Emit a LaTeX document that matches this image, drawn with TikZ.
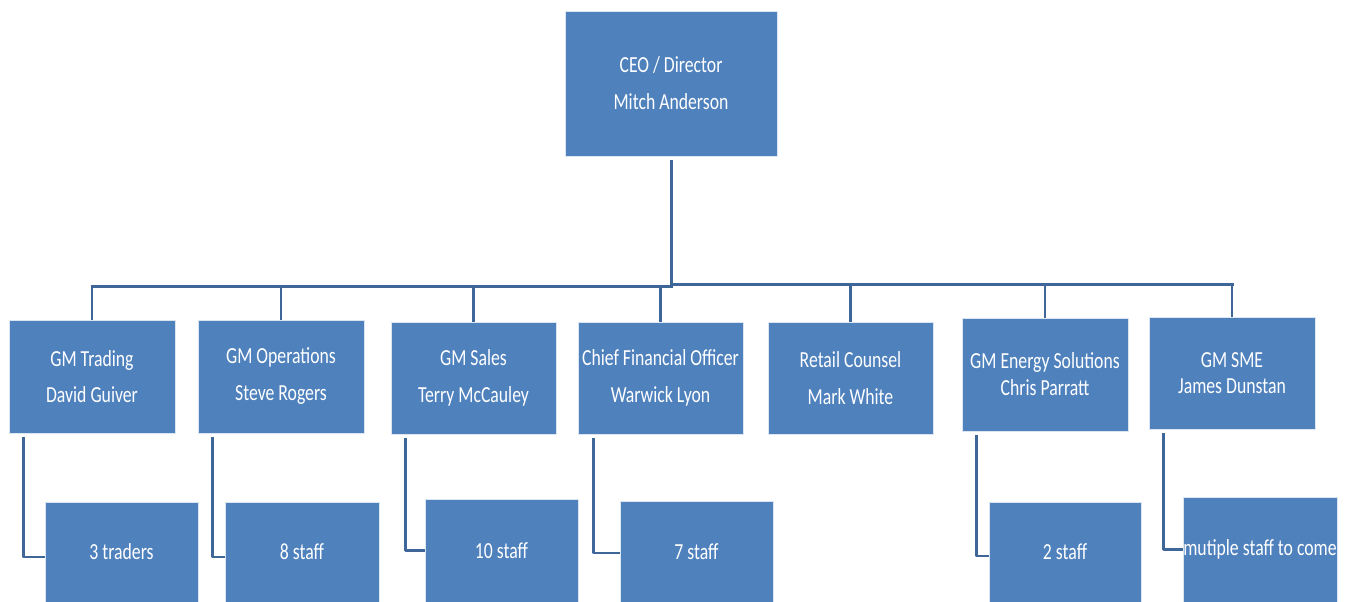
\documentclass[tikz,border=0pt]{standalone}
\usepackage{fontspec}
\setmainfont{Carlito}[FakeStretch=0.77]
\definecolor{boxblue}{HTML}{4F81BD}
\definecolor{lineblue}{HTML}{3F6699}
\begin{document}
\begin{tikzpicture}[x=1pt,y=-1pt,
  box/.style={rectangle, fill=boxblue, draw=white!80!boxblue, line width=0.8pt,
    text=white, align=center, inner sep=0pt, font=\fontsize{23}{23}\selectfont},
  conn/.style={draw=lineblue, line width=3pt},
  elbow/.style={draw=lineblue, line width=2.6pt, line join=round}]
\useasboundingbox (0,0) rectangle (1349,602);
% top
\node[box, minimum width=212, minimum height=145] (ceo) at (671,83.5) {CEO / Director\\[14pt]Mitch Anderson};
% second row
\node[box, minimum width=166, minimum height=113] (t1) at (92,376.5) {GM Trading\\[13pt]David Guiver};
\node[box, minimum width=166, minimum height=113] (t2) at (281,376.5) {GM Operations\\[14pt]Steve Rogers};
\node[box, minimum width=165, minimum height=112] (t3) at (473.5,378) {GM Sales\\[14pt]Terry McCauley};
\node[box, minimum width=165, minimum height=112] (t4) at (660.5,378) {Chief Financial Officer\\[14pt]Warwick Lyon};
\node[box, minimum width=165, minimum height=112] (t5) at (850.5,378) {Retail Counsel\\[14pt]Mark White};
\node[box, minimum width=166, minimum height=113] (t6) at (1045,374.5) {GM Energy Solutions\\[4pt]Chris Parratt};
\node[box, minimum width=166, minimum height=112] (t7) at (1232,373) {GM SME\\[3pt]James Dunstan};
% third row
\node[box, minimum width=153, minimum height=100] (b1) at (121.5,552) {3 traders};
\node[box, minimum width=154, minimum height=100] (b2) at (302,552) {8 staff};
\node[box, minimum width=153, minimum height=103] (b3) at (501.5,550.5) {10 staff};
\node[box, minimum width=153, minimum height=101] (b4) at (696.5,551.5) {7 staff};
\node[box, minimum width=152, minimum height=100] (b6) at (1065,552) {2 staff};
\node[box, minimum width=154, minimum height=105] (b7) at (1260,549.5) {mutiple staff to come};
% bus
\coordinate (bus) at (671,285);
\coordinate (busLy) at (671,286);
\coordinate (busRy) at (671,284);
\coordinate (busL) at (t1.north |- busLy);
\coordinate (busR) at (t7.north |- busRy);
\draw[conn] ([yshift=-4pt]ceo.south) -- (bus);
\draw[conn] ([xshift=-1.5pt]busL) -- ([xshift=1.5pt]busLy);
\draw[conn] ([xshift=-1.5pt]busRy) -- ([xshift=1.5pt]busR);
\foreach \n in {t1,t2,t3,t4}{
  \draw[conn, line width=2.5pt] (\n.north |- busLy) -- (\n.north);
}
\foreach \n in {t5,t6,t7}{
  \draw[conn, line width=2.5pt] (\n.north |- busRy) -- (\n.north);
}
% elbows
\draw[elbow] ([xshift=15pt,yshift=-4pt]t1.south west) |- ([yshift=-5pt]b1.west);
\draw[elbow] ([xshift=15pt,yshift=-4pt]t2.south west) |- ([yshift=-5pt]b2.west);
\draw[elbow] ([xshift=15pt,yshift=-4pt]t3.south west) |- (b3.west);
\draw[elbow] ([xshift=16pt,yshift=-4pt]t4.south west) |- ([yshift=-1.5pt]b4.west);
\draw[elbow] ([xshift=15pt,yshift=-4pt]t6.south west) |- ([yshift=-4pt]b6.west);
\draw[elbow] ([xshift=15pt,yshift=-4pt]t7.south west) |- (b7.west);
\end{tikzpicture}
\end{document}
